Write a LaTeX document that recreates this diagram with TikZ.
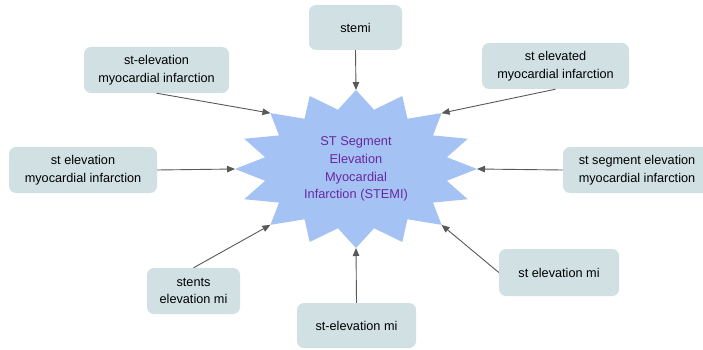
\documentclass[tikz,border=0pt]{standalone}
\usepackage{fontspec}
\setmainfont{Liberation Sans}
\usetikzlibrary{arrows.meta}
\definecolor{boxfill}{HTML}{D0E0E3}
\definecolor{starfill}{HTML}{A4C2F4}
\definecolor{startxt}{RGB}{106,40,160}
\definecolor{arrowc}{HTML}{595959}
\tikzset{
  termbox/.style={fill=boxfill, rounded corners=7pt, inner sep=0pt, align=center,
    font=\fontsize{12.7}{17.8}\selectfont, text=black},
  startext/.style={align=center, font=\fontsize{12.8}{17.8}\selectfont, text=startxt, inner sep=0pt},
  link/.style={draw=arrowc, line width=0.9pt, -{Triangle[length=8pt,width=6.5pt]}}
}
\begin{document}
\begin{tikzpicture}[x=1pt,y=-1pt]
\useasboundingbox (0,0) rectangle (703,350);
\fill[white] (0,0) rectangle (703,350);
% star
\fill[starfill] (356,90)
  \foreach \k in {1,...,31}{ -- ({356+121*(1-0.235*mod(\k,2))*cos(90+\k*11.25)},{169-79*(1-0.235*mod(\k,2))*sin(90+\k*11.25)}) } -- cycle;
\node[startext] (core) at (356,169) {ST Segment\\Elevation\\Myocardial\\Infarction (STEMI)};
\foreach \a/\n in {90/tN,135/tNW,45/tNE,180/tW,0/tE,225/tSW,270/tS,315/tSE}{
  \coordinate (\n) at ({356+121*cos(\a)},{169-79*sin(\a)});
}
% boxes
\node[termbox, minimum width=93pt, minimum height=45pt] (stemi) at (355.5,27.5) {stemi};
\node[termbox, minimum width=145pt, minimum height=46pt] (stelevMI) at (156.5,70) {st-elevation\\myocardial infarction};
\node[termbox, minimum width=147pt, minimum height=46pt] (stelevated) at (555.5,66) {st elevated\\myocardial infarction};
\node[termbox, minimum width=148pt, minimum height=46pt] (stelevL) at (83,170) {st elevation\\myocardial infarction};
\node[termbox, minimum width=148pt, minimum height=46pt] (stsegment) at (637,170) {st segment elevation\\myocardial infarction};
\node[termbox, minimum width=93pt, minimum height=46pt] (stents) at (193.5,291) {stents\\elevation mi};
\node[termbox, minimum width=119pt, minimum height=45pt] (stelevmi) at (356.5,325.5) {st-elevation mi};
\node[termbox, minimum width=120pt, minimum height=47pt] (stelevmiR) at (559,272.5) {st elevation mi};
% connectors
\draw[link] (stemi.south) -- (tN);
\draw[link] (stelevMI.south) -- (tNW);
\draw[link] (stelevated.south) -- (tNE);
\draw[link] (stelevL.east) -- (tW);
\draw[link] (stsegment.west) -- (tE);
\draw[link] (stents.north) -- (tSW);
\draw[link] (stelevmi.north) -- (tS);
\draw[link] (stelevmiR.west) -- (tSE);
\end{tikzpicture}
\end{document}
